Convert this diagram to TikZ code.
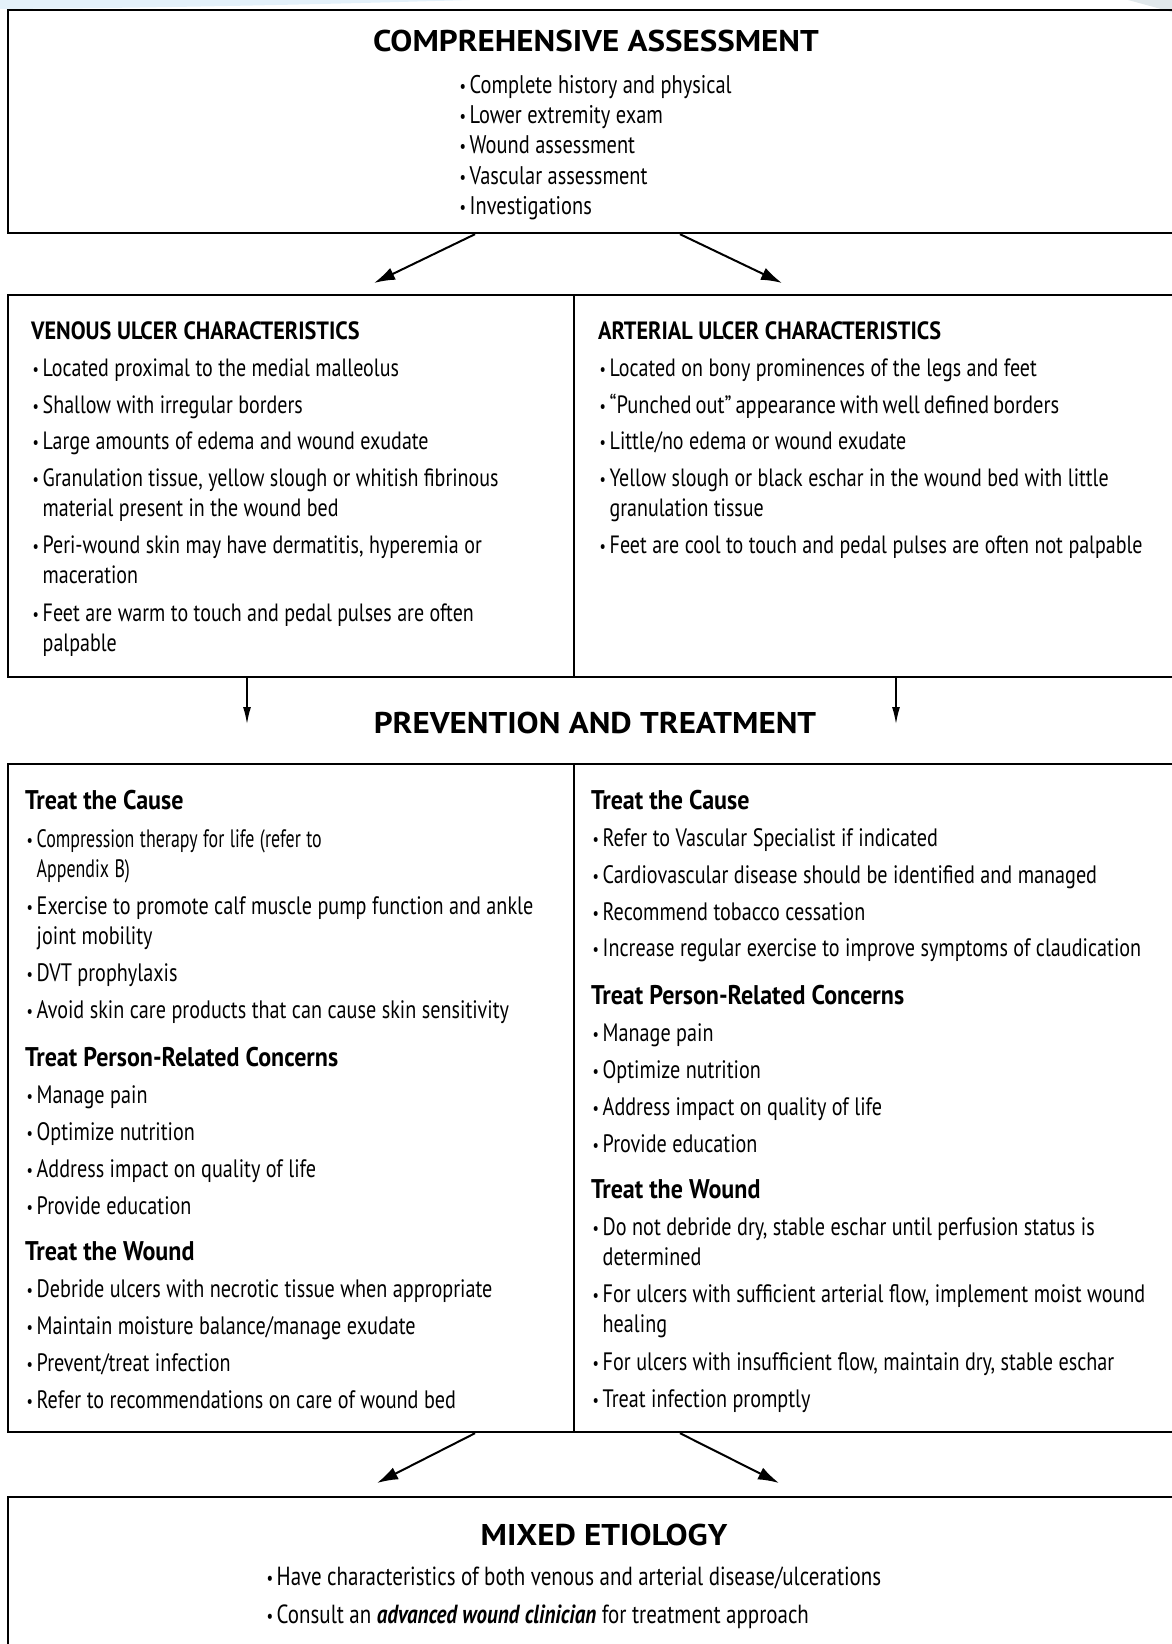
\documentclass[tikz,border=0pt]{standalone}
\usepackage{fontspec}
\setmainfont{PT Sans}
\newfontfamily\cond{PT Sans}[FakeStretch=0.8]
\newfontfamily\headfont{PT Sans}[FakeStretch=0.89]
\newfontfamily\titlefont{PT Sans}[FakeStretch=1.1]
\newfontfamily\tight{PT Sans}[FakeStretch=0.71]
\newfontfamily\snug{PT Sans}[FakeStretch=0.82]
\usetikzlibrary{arrows.meta}
\definecolor{swoosh}{RGB}{228,241,250}
\definecolor{swooshgrey}{RGB}{225,232,235}
\newcommand{\narrowgaps}{\spaceskip=5.5pt plus 1.5pt minus 1pt\relax}
\newcommand{\itm}[1]{\narrowgaps\makebox[11.5pt][l]{\hspace{1.5pt}\raisebox{1pt}{\scalebox{0.7}{\textbullet}}}#1}
\newcommand{\cont}{\newline\hspace*{11.5pt}}

\begin{document}
\begin{tikzpicture}[x=1pt, y=-1pt,
  box/.style={draw, line width=2.2pt, rectangle, inner sep=0pt, anchor=north west},
  title/.style={font=\titlefont\bfseries\fontsize{30}{36}\selectfont, anchor=base, inner sep=0pt},
  head/.style={font=\headfont\bfseries\fontsize{25}{30}\selectfont, anchor=base west, inner sep=0pt},
  carehead/.style={font=\headfont\bfseries\fontsize{27}{30}\selectfont, anchor=base west, inner sep=0pt},
  item/.style={font=\cond\fontsize{25}{30}\selectfont, anchor=base west, inner sep=0pt, text width=700pt, align=left},
  topitem/.style={item, font=\cond\fontsize{25.5}{30}\selectfont},
  careitem/.style={item, font=\cond\fontsize{25.2}{30}\selectfont},
  mixitem/.style={item, font=\cond\fontsize{26.2}{30}\selectfont},
  flow/.style={line width=2pt, -{Latex[length=21pt,width=13pt]}},
  drop/.style={line width=1.4pt, -{Latex[length=17pt,width=8pt]}}]
 \useasboundingbox (0,0) rectangle (1172,1644);
 \clip (0,0) rectangle (1172,1644);
 \fill[swoosh] (0,0) -- (470,0) .. controls (300,5) and (150,8) .. (0,9) -- cycle;
 \fill[swooshgrey] (1128,0) -- (1172,0) -- (1172,12) -- cycle;

 % boxes
 \node[box, minimum width=1210pt, minimum height=223pt] (assess) at (7,9) {};
 \node[box, minimum width=566pt, minimum height=382pt] (venous) at (7,294) {};
 \node[box, minimum width=640pt, minimum height=382pt] (arterial) at (573,294) {};
 \node[box, minimum width=566pt, minimum height=668pt] (vcare) at (7,763) {};
 \node[box, minimum width=640pt, minimum height=668pt] (acare) at (573,763) {};
 \node[box, minimum width=1210pt, minimum height=300pt] (mixed) at (7,1496) {};

 % comprehensive assessment
 \node[title] (assesstitle) at (596,51) {COMPREHENSIVE ASSESSMENT};
 \node[topitem] (a1) at (458,93) {\itm{Complete history and physical}};
 \node[topitem] (a2) at (458,123.4) {\itm{Lower extremity exam}};
 \node[topitem] (a3) at (458,153.8) {\itm{Wound assessment}};
 \node[topitem] (a4) at (458,184.2) {\itm{Vascular assessment}};
 \node[topitem] (a5) at (458,214.6) {\itm{Investigations}};

 % venous
 \node[head] (vhead) at (31,339) {VENOUS ULCER CHARACTERISTICS};
 \node[item] (v1) at (31,376) {\itm{Located proximal to the medial malleolus}};
 \node[item] (v2) at (31,413) {\itm{Shallow with irregular borders}};
 \node[item] (v3) at (31,449) {\itm{Large amounts of edema and wound exudate}};
 \node[item] (v4) at (31,486) {\itm{Granulation tissue, yellow slough or whitish fibrinous\cont material present in the wound bed}};
 \node[item] (v5) at (31,553) {\itm{Peri-wound skin may have dermatitis, hyperemia or\cont maceration}};
 \node[item] (v6) at (31,621) {\itm{Feet are warm to touch and pedal pulses are often\cont palpable}};

 % arterial
 \node[head] (ahead) at (598,339) {ARTERIAL ULCER CHARACTERISTICS};
 \node[item] (r1) at (598,376) {\itm{Located on bony prominences of the legs and feet}};
 \node[item] (r2) at (598,413) {\itm{{\snug\spaceskip=4pt\relax “Punched out” appearance with well defined borders}}};
 \node[item] (r3) at (598,449) {\itm{Little/no edema or wound exudate}};
 \node[item] (r4) at (598,486) {\itm{Yellow slough or black eschar in the wound bed with little\cont granulation tissue}};
 \node[item] (r5) at (598,553) {\itm{Feet are cool to touch and pedal pulses are often not palpable}};

 \node[title] (prevtitle) at (595,733) {PREVENTION AND TREATMENT};

 % venous care
 \node[carehead] (vcause) at (25,809) {Treat the Cause};
 \node[careitem] (c1) at (25,847) {\itm{{\tight Compression therapy for life (refer to}\cont {\tight Appendix B)}}};
 \node[careitem] (c2) at (25,914) {\itm{Exercise to promote calf muscle pump function and ankle\cont joint mobility}};
 \node[careitem] (c3) at (25,981.5) {\itm{DVT prophylaxis}};
 \node[careitem] (c4) at (25,1018.4) {\itm{Avoid skin care products that can cause skin sensitivity}};
 \node[carehead] (vperson) at (25,1066) {Treat Person-Related Concerns};
 \node[careitem] (c5) at (25,1103) {\itm{Manage pain}};
 \node[careitem] (c6) at (25,1140) {\itm{Optimize nutrition}};
 \node[careitem] (c7) at (25,1177) {\itm{Address impact on quality of life}};
 \node[careitem] (c8) at (25,1214) {\itm{Provide education}};
 \node[carehead] (vwound) at (25,1260.6) {Treat the Wound};
 \node[careitem] (c9) at (25,1297.6) {\itm{Debride ulcers with necrotic tissue when appropriate}};
 \node[careitem] (c10) at (25,1334.5) {\itm{Maintain moisture balance/manage exudate}};
 \node[careitem] (c11) at (25,1371.4) {\itm{Prevent/treat infection}};
 \node[careitem] (c12) at (25,1408.3) {\itm{Refer to recommendations on care of wound bed}};

 % arterial care
 \node[carehead] (acause) at (591,809) {Treat the Cause};
 \node[careitem] (e1) at (591,846) {\itm{Refer to Vascular Specialist if indicated}};
 \node[careitem] (e2) at (591,883) {\itm{Cardiovascular disease should be identified and managed}};
 \node[careitem] (e3) at (591,920) {\itm{Recommend tobacco cessation}};
 \node[careitem] (e4) at (591,956.7) {\itm{Increase regular exercise to improve symptoms of claudication}};
 \node[carehead] (aperson) at (591,1004.5) {Treat Person-Related Concerns};
 \node[careitem] (e5) at (591,1041.4) {\itm{Manage pain}};
 \node[careitem] (e6) at (591,1078) {\itm{Optimize nutrition}};
 \node[careitem] (e7) at (591,1115) {\itm{Address impact on quality of life}};
 \node[careitem] (e8) at (591,1152) {\itm{Provide education}};
 \node[carehead] (awound) at (591,1198.6) {Treat the Wound};
 \node[careitem] (e9) at (591,1235.5) {\itm{Do not debride dry, stable eschar until perfusion status is\cont determined}};
 \node[careitem] (e10) at (591,1302.8) {\itm{For ulcers with sufficient arterial flow, implement moist wound\cont healing}};
 \node[careitem] (e11) at (591,1370) {\itm{For ulcers with insufficient flow, maintain dry, stable eschar}};
 \node[careitem] (e12) at (591,1407) {\itm{Treat infection promptly}};

 % mixed etiology
 \node[title] (mixedtitle) at (604,1545) {MIXED ETIOLOGY};
 \node[mixitem] (m1) at (265,1585) {\itm{Have characteristics of both venous and arterial disease/ulcerations}};
 \node[mixitem] (m2) at (265,1623) {\itm{Consult an \textbf{\textit{advanced wound clinician}} for treatment approach}};

 % arrows
 \coordinate (tipA) at (374,283);
 \coordinate (tipB) at (782,283);
 \coordinate (tipC) at (247,724);
 \coordinate (tipD) at (896,724);
 \coordinate (tipE) at (377,1483);
 \coordinate (tipF) at (779,1483);
 \draw[flow] ([xshift=468pt]assess.south west) -- (tipA);
 \draw[flow] ([xshift=673pt]assess.south west) -- (tipB);
 \draw[drop] ([xshift=240pt]venous.south west) -- (tipC);
 \draw[drop] ([xshift=323pt]arterial.south west) -- (tipD);
 \draw[flow] ([xshift=468pt]vcare.south west) -- (tipE);
 \draw[flow] ([xshift=107pt]acare.south west) -- (tipF);
\end{tikzpicture}
\end{document}
